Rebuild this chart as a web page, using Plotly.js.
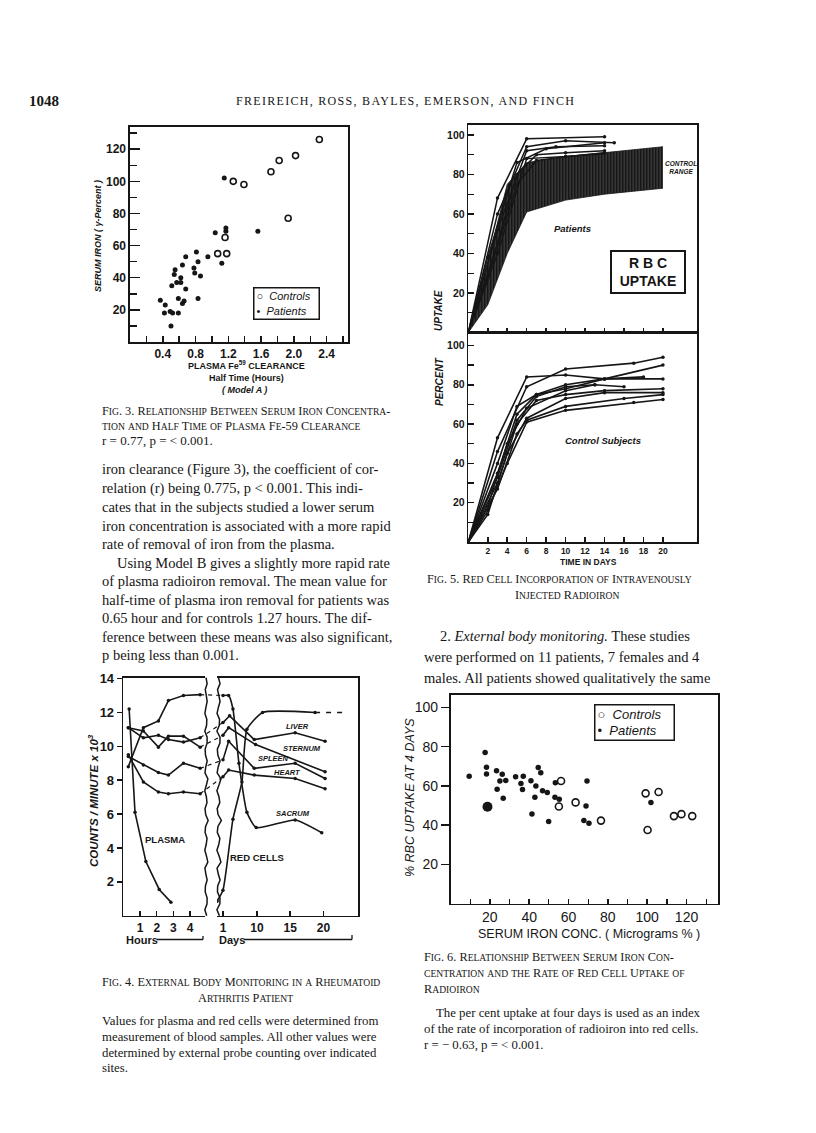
<!DOCTYPE html>
<html>
<head>
<meta charset="utf-8">
<script src="https://cdn.plot.ly/plotly-3.0.1.min.js"></script>
<style>
  body { margin: 0; background: white; }
  #page { width: 816px; height: 1133px; }
</style>
</head>
<body>
<div id="page"></div>
<script>
// ---- Fig. 3 : serum iron vs plasma Fe59 clearance half time ----
const fig3ControlsX = [2.31, 2.02, 1.82, 1.72, 1.26, 1.39, 1.93, 1.16, 1.07, 1.18];
const fig3ControlsY = [126, 116, 113, 106, 100, 98, 77, 65, 55, 55];
const fig3PatientsX = [1.15, 1.17, 1.17, 1.04, 1.56, 0.68, 0.81, 0.83, 0.95, 0.78, 0.79, 0.86, 1.12, 0.64, 0.55, 0.54,
  0.62, 0.57, 0.62, 0.51, 0.68, 0.83, 0.59, 0.66, 0.64, 0.37, 0.43, 0.42, 0.49, 0.52, 0.59, 0.50];
const fig3PatientsY = [102, 71, 69, 68, 69, 53, 56, 50, 53, 46, 43, 41, 49, 48, 45, 42,
  40, 37, 37, 35, 33, 27, 27, 25.5, 24, 26, 23, 18, 19, 18, 18, 10];

// ---- Fig. 4 : external body monitoring ----
// left panel is in hours
const plasmaHours = [0.35, 0.7, 1.35, 2.15, 2.85];
const plasmaCounts = [12.2, 6.1, 3.2, 1.55, 0.8];
const organHours = [0.3, 1.2, 2.1, 2.7, 3.6, 4.6];
const sacrumHrs = [8.8, 11.1, 11.5, 12.7, 13.0, 13.05];
const liverHrs = [11.1, 10.5, 10.65, 10.4, 10.25, 10.5];
const sternumHrs = [11.1, 10.9, 9.95, 10.6, 10.6, 9.95];
const spleenHrs = [9.4, 8.9, 8.45, 8.3, 9.0, 8.7];
const heartHrs = [9.5, 7.9, 7.3, 7.2, 7.3, 7.2];
// right panel is in days (axis is broken, "1" sits just after the break)
const dayTickPos = [4.9, 10, 15, 20];
const dayTickText = ['1', '10', '15', '20'];
const liverDayX = [4.9, 5.9, 9.6, 15.75, 20.25];
const liverDay = [11.4, 11.8, 10.4, 10.8, 10.3];
const sternumDayX = [4.9, 5.75, 9.8, 20.25];
const sternumDay = [10.65, 11.1, 10.1, 8.5];
const spleenDayX = [4.9, 5.75, 9.6, 15.75, 20.25];
const spleenDay = [9.2, 10.3, 8.7, 9.0, 8.1];
const heartDayX = [4.9, 5.75, 9.6, 15.75, 20.25];
const heartDay = [8.2, 8.6, 8.3, 8.1, 7.5];
const sacrumDayX = [4.9, 5.75, 6.4, 7.3, 8.5, 9.9, 15.75, 19.75];
const sacrumDay = [13.0, 13.0, 12.2, 9.0, 6.1, 5.2, 5.65, 4.9];
const redCellDayX = [4.0, 4.9, 6.4, 7.75, 8.5, 10.85, 18.75];
const redCellDay = [0.85, 1.5, 5.7, 7.9, 11.0, 12.0, 12.0];
const redCellExtX = [18.75, 23.25];
const redCellExt = [12.0, 12.0];

// ---- Fig. 5 : red cell incorporation ----
const patientLines = [
  {d: [0, 3, 6, 14], v: [0, 68, 98, 99]},
  {d: [0, 3, 6, 10, 15], v: [0, 60, 94, 97, 96]},
  {d: [0, 3, 6, 9, 14], v: [0, 52, 92, 94, 94.5]},
  {d: [0, 2, 5, 8, 14], v: [0, 38, 86, 93, 96]},
  {d: [0, 3, 5, 7, 10, 14], v: [0, 45, 80, 90, 91, 92]},
  {d: [0, 3, 6, 10, 14], v: [0, 40, 88, 89, 90.5]},
  {d: [0, 2, 5, 7, 10, 14], v: [0, 28, 75, 87, 89, 91]}
];
const bandDays = [0, 2, 4, 6, 10, 14, 20];
const bandLow = [0, 14, 40, 61, 67, 70, 73];
const bandHigh = [0, 36, 75, 86, 89, 91, 94];
const controlLines = [
  {d: [0, 3, 6, 10, 14, 20], v: [0, 53, 84, 85, 83, 83]},
  {d: [0, 3, 6, 10, 17, 20], v: [0, 46, 79, 88, 91, 94]},
  {d: [0, 3, 5, 7, 10, 14, 20], v: [0, 40, 69, 75, 80, 83, 90]},
  {d: [0, 3, 5, 7, 10, 14, 18], v: [0, 35, 65, 75, 78, 83, 84]},
  {d: [0, 3, 5, 7, 10, 13, 16], v: [0, 33, 62, 74, 79, 80, 79]},
  {d: [0, 2, 4, 6, 10, 13], v: [0, 18, 50, 68, 77, 80]},
  {d: [0, 3, 5, 7, 10, 14, 20], v: [0, 30, 60, 72, 75, 77, 78]},
  {d: [0, 2, 4, 6, 10, 14, 20], v: [0, 14, 45, 63, 73, 76, 76]},
  {d: [0, 3, 5, 6, 10, 16, 20], v: [0, 27, 55, 62, 69, 73, 75]},
  {d: [0, 2, 4, 6, 10, 17, 20], v: [0, 16, 40, 61, 67, 71, 72.5]}
];

// ---- Fig. 6 : serum iron vs RBC uptake at 4 days ----
const fig6PatientsX = [9.5, 17.6, 18.3, 18.3, 18.8, 23.4, 23.7, 25.1, 26.3, 26.8, 28.1, 33.1, 35.8, 36.6, 37, 40.9,
  41.4, 42.9, 43.4, 44.6, 45.9, 46.8, 49.2, 49.9, 53.1, 53.3, 55.3, 67.8, 68.9, 69.4, 70.4, 101.9];
const fig6PatientsY = [65, 77, 69.5, 66.1, 49.4, 67.7, 58.3, 62.5, 65.9, 53.7, 62.8, 64.7, 61.3, 58.2, 65, 62.7,
  45.7, 54.2, 59.9, 69.4, 66.7, 57.5, 56.7, 41.8, 54.2, 61.6, 53.2, 42.3, 49.8, 62.5, 40.9, 51.5];
const fig6ControlsX = [55.1, 56.2, 63.6, 76.5, 99.2, 100.2, 105.8, 113.6, 117.4, 122.9];
const fig6ControlsY = [49.5, 62.5, 51.6, 42.3, 56.2, 37.5, 56.9, 44.6, 45.6, 44.6];

// page helpers (pixel -> paper)
const W = 816, H = 1133;
const fx = x => x / W;
const fy = y => 1 - y / H;
const domX = (a, b) => [a / W, b / W];
const domY = (top, bottom) => [1 - bottom / H, 1 - top / H];
const INK = '#161616';
const SANS = 'Liberation Sans';
const SERIF = 'Liberation Serif';

function ax(extra) {
  return Object.assign({
    showgrid: false, zeroline: false, showline: true, linecolor: INK, linewidth: 1.6,
    ticks: 'inside', tickcolor: INK, tickwidth: 1.5, ticklen: 7, fixedrange: true,
    tickfont: {family: SANS, size: 12, color: INK, weight: 'bold'}
  }, extra);
}

const x2 = ax({domain: domX(123.3, 205), range: [0, 4.89], anchor: 'y2', mirror: true,
  tickvals: [1, 2, 3, 4], ticklen: 5, tickfont: {family: SANS, size: 12, color: INK, weight: 'bold'}});
const x3 = ax({domain: domX(217, 358.3), range: [4.0, 25.25], anchor: 'y3', mirror: true,
  tickvals: dayTickPos, ticktext: dayTickText, ticklen: 5, tickfont: {family: SANS, size: 12, color: INK, weight: 'bold'}});

// convert a panel value to the overlay axis used for the dashed links across the break
function toFrac(v, axis) {
  const d = axis.domain, r = axis.range;
  return d[0] + (v - r[0]) / (r[1] - r[0]) * (d[1] - d[0]);
}
const linkDom = [x2.domain[0], x3.domain[1]];
const toLink = f => (f - linkDom[0]) / (linkDom[1] - linkDom[0]);

const leftEnds = [sacrumHrs, liverHrs, sternumHrs, spleenHrs, heartHrs];
const rightStarts = [sacrumDay, liverDay, sternumDay, spleenDay, heartDay];
const rightStartX = [sacrumDayX, liverDayX, sternumDayX, spleenDayX, heartDayX];
const linkX = [], linkY = [];
leftEnds.forEach((arr, i) => {
  linkX.push(toLink(toFrac(organHours[organHours.length - 1], x2)), toLink(toFrac(rightStartX[i][0], x3)), null);
  linkY.push(arr[arr.length - 1], rightStarts[i][0], null);
});

const traces = [];
const line = (x, y, xa, ya, extra) => Object.assign({
  x: x, y: y, xaxis: xa, yaxis: ya, type: 'scatter', mode: 'lines+markers', showlegend: false,
  line: {color: INK, width: 1.6}, marker: {color: INK, size: 3.5}, hoverinfo: 'skip'
}, extra || {});

// Fig 3
traces.push({x: fig3ControlsX, y: fig3ControlsY, xaxis: 'x', yaxis: 'y', type: 'scatter', mode: 'markers',
  name: 'Controls', showlegend: false,
  marker: {symbol: 'circle-open', size: 6, color: INK, line: {width: 1.6}}});
traces.push({x: fig3PatientsX, y: fig3PatientsY, xaxis: 'x', yaxis: 'y', type: 'scatter', mode: 'markers',
  name: 'Patients', showlegend: false, marker: {symbol: 'circle', size: 5, color: INK}});

// Fig 4
traces.push(line(plasmaHours, plasmaCounts, 'x2', 'y2'));
[sacrumHrs, liverHrs, sternumHrs, spleenHrs, heartHrs].forEach(v => traces.push(line(organHours, v, 'x2', 'y2')));
traces.push(line(liverDayX, liverDay, 'x3', 'y3'));
traces.push(line(sternumDayX, sternumDay, 'x3', 'y3'));
traces.push(line(spleenDayX, spleenDay, 'x3', 'y3'));
traces.push(line(heartDayX, heartDay, 'x3', 'y3'));
traces.push(line(sacrumDayX, sacrumDay, 'x3', 'y3', {line: {color: INK, width: 1.6, shape: 'spline', smoothing: 0.5}}));
traces.push(line(redCellDayX, redCellDay, 'x3', 'y3', {line: {color: INK, width: 1.6, shape: 'spline', smoothing: 0.5}}));
traces.push(line(redCellExtX, redCellExt, 'x3', 'y3', {mode: 'lines', line: {color: INK, width: 1.6, dash: '5px,6px'}}));
traces.push(line(linkX, linkY, 'x4', 'y2', {mode: 'lines', line: {color: INK, width: 1.2, dash: '4px,4px'}}));

// Fig 5 top: control range band + patients
traces.push(line(bandDays, bandLow, 'x5', 'y5', {mode: 'lines', line: {color: INK, width: 0.8}}));
traces.push(line(bandDays, bandHigh, 'x5', 'y5', {mode: 'lines', line: {color: INK, width: 0.8}, fill: 'tonexty',
  fillcolor: 'rgba(10,10,10,0.9)',
  fillpattern: {shape: '|', fgcolor: '#0a0a0a', bgcolor: '#ffffff', size: 3, solidity: 0.88}}));
patientLines.forEach(p => traces.push(line(p.d, p.v, 'x5', 'y5', {line: {color: INK, width: 1.5}, marker: {color: INK, size: 3.5}})));
// Fig 5 bottom: control subjects
controlLines.forEach(p => traces.push(line(p.d, p.v, 'x6', 'y6', {line: {color: INK, width: 1.6}, marker: {color: INK, size: 3.5}})));

// Fig 6
traces.push({x: fig6ControlsX, y: fig6ControlsY, xaxis: 'x7', yaxis: 'y7', type: 'scatter', mode: 'markers',
  name: 'Controls', showlegend: false,
  marker: {symbol: 'circle-open', size: 7, color: INK, line: {width: 1.6}}});
traces.push({x: fig6PatientsX, y: fig6PatientsY, xaxis: 'x7', yaxis: 'y7', type: 'scatter', mode: 'markers',
  name: 'Patients', showlegend: false,
  marker: {symbol: 'circle', size: fig6PatientsX.map((v, i) => i === 4 ? 10 : 5.5), color: INK, opacity: 1, line: {width: 0}}});

// text helpers
function txt(x, y, text, o) {
  o = o || {};
  return {xref: 'paper', yref: 'paper', x: fx(x), y: fy(y), text: text, showarrow: false,
    xanchor: o.anchor || 'left', yanchor: 'middle', textangle: o.angle || 0,
    font: {family: o.family || SERIF, size: o.size || 14.5, color: INK, weight: o.weight || 'normal', style: o.style || 'normal'}};
}
function sc(s, small) {
  return s.replace(/[a-z]+/g, m => '<span style="font-size:' + small + 'px">' + m.toUpperCase() + '</span>');
}
const lab = (x, y, t, size, extra) => txt(x, y, t, Object.assign({family: SANS, size: size, weight: 'bold', anchor: 'center'}, extra || {}));
// boxed key, like the printed figures
function key(cx, cy, size, w, h) {
  return Object.assign(txt(cx, cy, '○  <i>Controls</i><br>•  <i>Patients</i>', {family: SANS, size: size, anchor: 'center'}),
    {align: 'left', bordercolor: INK, borderwidth: 1.5, borderpad: 2, bgcolor: 'white', width: w, height: h});
}

const bodyLeft = ['iron clearance (Figure 3), the coefficient of cor-',
  'relation (r) being 0.775, p &lt; 0.001. This indi-',
  'cates that in the subjects studied a lower serum',
  'iron concentration is associated with a more rapid',
  'rate of removal of iron from the plasma.',
  '    Using Model B gives a slightly more rapid rate',
  'of plasma radioiron removal. The mean value for',
  'half-time of plasma iron removal for patients was',
  '0.65 hour and for controls 1.27 hours. The dif-',
  'ference between these means was also significant,',
  'p being less than 0.001.'];

const annotations = [
  txt(27, 101, '1048', {size: 15, weight: 'bold'}),
  txt(405, 101, '<span style="letter-spacing:1.3px">FREIREICH, ROSS, BAYLES, EMERSON, AND FINCH</span>', {size: 12, anchor: 'center'}),

  // Fig 3 labels
  txt(98, 236, 'SERUM IRON ( γ-Percent )', {family: SANS, size: 9, weight: 'bold', style: 'italic', angle: -90, anchor: 'center'}),
  lab(247, 365, 'PLASMA Fe<sup>59</sup> CLEARANCE', 9),
  lab(246, 378, 'Half Time (Hours)', 9),
  lab(244, 390, '( Model A )', 9, {style: 'italic'}),
  key(286, 304, 11, 60, 26),
  txt(100, 411, sc('Fig. 3. Relationship Between Serum Iron Concentra-', 9.6), {size: 12.3}),
  txt(100, 426, sc('tion and Half Time of Plasma Fe-59 Clearance', 9.6), {size: 12.3}),
  txt(100, 440, 'r = 0.77, p = < 0.001.', {size: 13}),

  // Fig 4 labels
  txt(93, 801, 'COUNTS / MINUTE x 10<sup>3</sup>', {family: SANS, size: 11.5, weight: 'bold', style: 'italic', angle: -90, anchor: 'center'}),
  lab(297, 726, 'LIVER', 7.5, {style: 'italic'}),
  lab(302, 748, 'STERNUM', 7.5, {style: 'italic'}),
  lab(273, 758, 'SPLEEN', 7.5, {style: 'italic'}),
  lab(287, 772, 'HEART', 7.5, {style: 'italic'}),
  lab(293, 813, 'SACRUM', 7.5, {style: 'italic'}),
  lab(165, 839, 'PLASMA', 9.5),
  lab(257, 857, 'RED CELLS', 9.5),
  txt(124, 940, 'Hours', {family: SANS, size: 11, weight: 'bold'}),
  txt(217, 940, 'Days', {family: SANS, size: 11, weight: 'bold'}),
  txt(100, 982, sc('Fig. 4. External Body Monitoring in a Rheumatoid', 9.6), {size: 12.3}),
  txt(245, 998, sc('Arthritis Patient', 9.6), {size: 12.3, anchor: 'center'}),
  txt(100, 1021, 'Values for plasma and red cells were determined from', {size: 12.8}),
  txt(100, 1037, 'measurement of blood samples. All other values were', {size: 12.8}),
  txt(100, 1053, 'determined by external probe counting over indicated', {size: 12.8}),
  txt(100, 1068, 'sites.', {size: 12.8}),

  // Fig 5 labels
  lab(439, 311, 'UPTAKE', 10, {style: 'italic', angle: -90}),
  lab(439, 382, 'PERCENT', 10, {style: 'italic', angle: -90}),
  lab(681, 167, 'CONTROL<br>RANGE', 6.5, {style: 'italic'}),
  lab(572, 228, 'Patients', 9.5, {style: 'italic'}),
  lab(603, 440, 'Control Subjects', 9.5, {style: 'italic'}),
  lab(588, 562, 'TIME IN DAYS', 8.5),
  Object.assign(lab(648, 272, 'R B C<br>UPTAKE', 14, {weight: 'bold'}),
    {bordercolor: INK, borderwidth: 2, borderpad: 3, bgcolor: 'white', width: 66, height: 34}),
  txt(425, 579, sc('Fig. 5. Red Cell Incorporation of Intravenously', 9.6), {size: 12.3}),
  txt(567, 595, sc('Injected Radioiron', 9.6), {size: 12.3, anchor: 'center'}),

  // right body text
  txt(438, 636, '2. <i>External body monitoring.</i> These studies'),
  txt(422, 657, 'were performed on 11 patients, 7 females and 4'),
  txt(422, 678, 'males. All patients showed qualitatively the same'),

  // Fig 6 labels
  key(634, 722, 13, 74, 30),
  txt(410, 798, '% RBC UPTAKE AT 4 DAYS', {family: SANS, size: 12.5, style: 'italic', angle: -90, anchor: 'center'}),
  txt(589, 934, 'SERUM IRON CONC. ( Micrograms % )', {family: SANS, size: 12.5, anchor: 'center'}),
  txt(422, 957, sc('Fig. 6. Relationship Between Serum Iron Con-', 9.6), {size: 12.3}),
  txt(422, 973, sc('centration and the Rate of Red Cell Uptake of', 9.6), {size: 12.3}),
  txt(422, 989, sc('Radioiron', 9.6), {size: 12.3}),
  txt(434, 1013, 'The per cent uptake at four days is used as an index', {size: 12.8}),
  txt(422, 1029, 'of the rate of incorporation of radioiron into red cells.', {size: 12.8}),
  txt(422, 1045, 'r = − 0.63, p = < 0.001.', {size: 12.8})
];
bodyLeft.forEach((t, i) => {
  const indent = t.startsWith('    ');
  annotations.push(txt(indent ? 115 : 100, 470 + i * 18.5, t.trim()));
});

// decorative breaks and underline rules of Fig 4
function wavy(xc, y0, y1, amp) {
  let p = '';
  const n = 40;
  for (let i = 0; i <= n; i++) {
    const y = y0 + (y1 - y0) * i / n;
    const x = xc + amp * Math.sin(i * 1.9) + (i % 7 === 3 ? amp * 0.8 : 0);
    p += (i ? 'L' : 'M') + fx(x).toFixed(5) + ',' + fy(y).toFixed(5) + ' ';
  }
  return p;
}
const rule = (xa, ya, xb, yb) => ({type: 'line', xref: 'paper', yref: 'paper', x0: fx(xa), y0: fy(ya), x1: fx(xb), y1: fy(yb),
  line: {color: INK, width: 1.3}});
const shapes = [
  {type: 'path', xref: 'paper', yref: 'paper', path: wavy(206, 677.7, 915.7, 1.2), line: {color: INK, width: 1.5}},
  {type: 'path', xref: 'paper', yref: 'paper', path: wavy(218.5, 677.7, 915.7, 1.6), line: {color: INK, width: 1.5}},
  rule(157, 939.5, 203, 939.5), rule(203, 939.5, 203, 936),
  rule(244, 939.5, 352, 939.5), rule(352, 939.5, 352, 935)
];

const layout = {
  width: W, height: H, margin: {l: 0, r: 0, t: 0, b: 0},
  paper_bgcolor: 'white', plot_bgcolor: 'rgba(0,0,0,0)',
  showlegend: false,

  // Fig 3
  xaxis: ax({domain: domX(130, 348), range: [0, 2.66], anchor: 'y', mirror: true,
    tickvals: [0.4, 0.8, 1.2, 1.6, 2.0, 2.4], ticktext: ['0.4', '0.8', '1.2', '1.6', '2.0', '2.4'], ticklen: 6,
    minor: {tick0: 0, dtick: 0.2, ticks: 'inside', ticklen: 6, tickcolor: INK, tickwidth: 1.5}}),
  yaxis: ax({domain: domY(126.7, 342), range: [0, 134], anchor: 'x', mirror: true,
    tickvals: [20, 40, 60, 80, 100, 120], ticklen: 10,
    minor: {tick0: 0, dtick: 10, ticks: 'inside', ticklen: 7, tickcolor: INK, tickwidth: 1.5}}),

  // Fig 4
  xaxis2: x2,
  yaxis2: ax({domain: domY(677.7, 915.7), range: [0, 14.05], anchor: 'x2', ticks: 'outside', ticklen: 5,
    tickvals: [2, 4, 6, 8, 10, 12, 14], tickfont: {family: SANS, size: 13, color: INK, weight: 'bold'}}),
  xaxis3: x3,
  yaxis3: ax({domain: domY(677.7, 915.7), range: [0, 14.05], anchor: 'x3', side: 'right', ticks: '', showticklabels: false}),
  xaxis4: {domain: linkDom, range: [0, 1], anchor: 'y2', visible: false, fixedrange: true},

  // Fig 5
  xaxis5: ax({domain: domX(468.3, 697), range: [0, 23.5], anchor: 'y5', mirror: true, ticklen: 5,
    tickvals: [2, 4, 6, 8, 10, 12, 14, 16, 18, 20], showticklabels: false}),
  yaxis5: ax({domain: domY(125, 332.5), range: [0, 105], anchor: 'x5', mirror: true, ticklen: 6,
    tickvals: [20, 40, 60, 80, 100], tickfont: {family: SANS, size: 10.5, color: INK, weight: 'bold'},
    minor: {tick0: 0, dtick: 10, ticks: 'inside', ticklen: 6, tickcolor: INK, tickwidth: 1.3}}),
  xaxis6: ax({domain: domX(468.3, 697), range: [0, 23.5], anchor: 'y6', mirror: true, ticklen: 5,
    tickvals: [2, 4, 6, 8, 10, 12, 14, 16, 18, 20], tickfont: {family: SANS, size: 8.5, color: INK, weight: 'bold'}}),
  yaxis6: ax({domain: domY(332.5, 542), range: [0, 106.6], anchor: 'x6', mirror: true, ticklen: 6,
    tickvals: [20, 40, 60, 80, 100], tickfont: {family: SANS, size: 10.5, color: INK, weight: 'bold'},
    minor: {tick0: 0, dtick: 10, ticks: 'inside', ticklen: 6, tickcolor: INK, tickwidth: 1.3}}),

  // Fig 6
  xaxis7: ax({domain: domX(450.5, 718), range: [0, 136], anchor: 'y7', mirror: true, ticklen: 5,
    tickvals: [20, 40, 60, 80, 100, 120], tickfont: {family: SANS, size: 14, color: INK},
    minor: {tick0: 0, dtick: 10, ticks: 'inside', ticklen: 5, tickcolor: INK, tickwidth: 1.3}}),
  yaxis7: ax({domain: domY(695, 903.5), range: [0, 106.4], anchor: 'x7', mirror: true, ticks: 'outside', ticklen: 8,
    tickvals: [20, 40, 60, 80, 100], tickfont: {family: SANS, size: 14, color: INK}}),

  annotations: annotations,
  shapes: shapes
};

Plotly.newPlot('page', traces, layout, {staticPlot: true, displayModeBar: false});
</script>
</body>
</html>
